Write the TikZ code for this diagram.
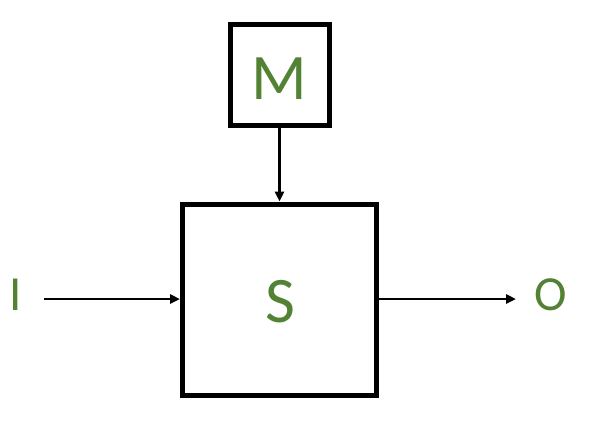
\documentclass[tikz,border=0pt]{standalone}
\usepackage{fontspec}
\setmainfont{Carlito}
\usetikzlibrary{arrows.meta}
\definecolor{lblgreen}{RGB}{84,130,53}
\begin{document}
\begin{tikzpicture}[x=1pt,y=-1pt,
  blockbox/.style={draw=black,line width=5pt,inner sep=0pt},
  lbl/.style={text=lblgreen,inner sep=0pt},
  conn/.style={draw=black,line width=2.6pt,-{Triangle[length=10pt,width=9pt]}}]
\useasboundingbox (0,0) rectangle (593,440);
\node[blockbox,minimum width=99pt,minimum height=101pt] (M) at (279.5,75) {};
\node[blockbox,minimum width=194pt,minimum height=191pt] (S) at (279.5,299.5) {};
\node[lbl,font=\fontsize{65}{65}\selectfont] (Mt) at (279.5,79) {M};
\node[lbl,font=\fontsize{65}{65}\selectfont] (St) at (280,302) {S};
\node[lbl,font=\fontsize{49}{49}\selectfont] (It) at (15.5,295) {I};
\node[lbl,font=\fontsize{49}{49}\selectfont] (Ot) at (551,295) {O};
\coordinate (Istart) at (44,299);
\coordinate (Oend) at (516,299);
\draw[conn] (M.south) -- (S.north);
\draw[conn] (Istart) -- (Istart -| S.west);
\draw[conn] (Oend -| S.east) -- (Oend);
\end{tikzpicture}
\end{document}
